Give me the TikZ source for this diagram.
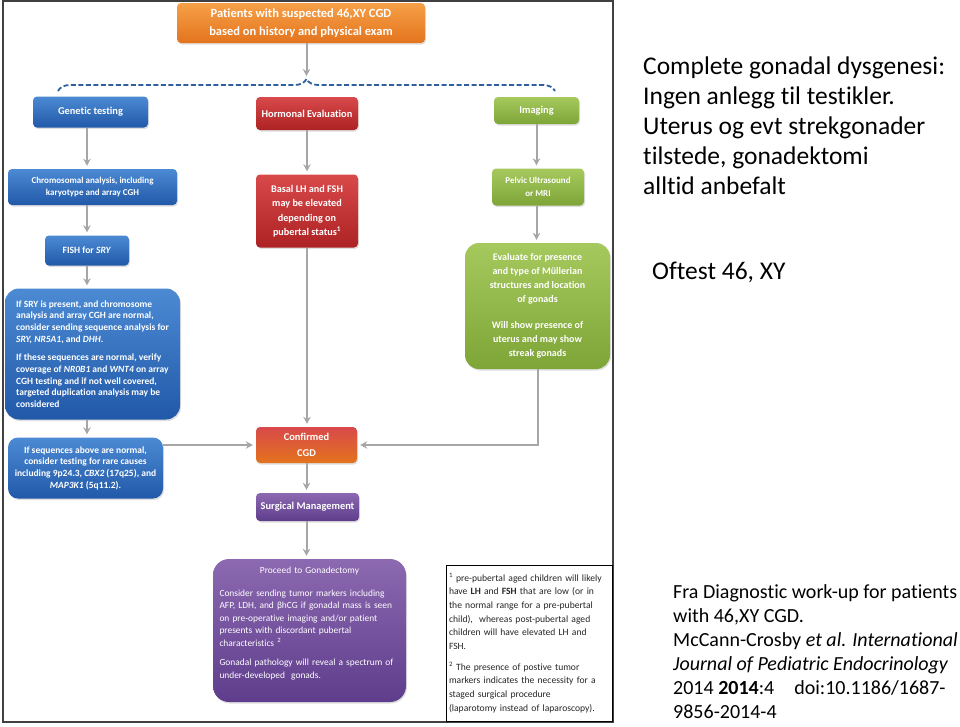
\documentclass[tikz,border=0pt]{standalone}
\usepackage{fontspec}
\setmainfont{Carlito}[Ligatures={NoCommon,TeX}]
\usepackage{tikz}
\usetikzlibrary{positioning,arrows.meta,decorations.pathreplacing,shadows}
\definecolor{flowgray}{HTML}{A6A6A6}
\definecolor{orangetop}{HTML}{F6A048}
\definecolor{orangebot}{HTML}{E3741D}
\definecolor{bluetop}{HTML}{4C8AD4}
\definecolor{bluebot}{HTML}{2159A8}
\definecolor{redtop}{HTML}{D8494A}
\definecolor{redbot}{HTML}{AD2224}
\definecolor{greentop}{HTML}{A6C95D}
\definecolor{greenbot}{HTML}{7EA537}
\definecolor{purpletop}{HTML}{8C69B0}
\definecolor{purplebot}{HTML}{5E3D8C}
\definecolor{bracecol}{HTML}{2F5F9E}

\begin{document}
\begin{tikzpicture}[x=1pt, y=-1pt,
    >={Stealth[length=7pt,width=7.5pt]},
    flow/.style={->, draw=flowgray, line width=2pt, shorten >=3pt},
    box/.style={rounded corners=4pt, inner sep=0pt, text=white, align=center,
      font=\bfseries\fontsize{9.5}{11.7}\selectfont,
      drop shadow={opacity=0.25, shadow xshift=1pt, shadow yshift=-1.5pt}},
    head/.style={box, font=\bfseries\fontsize{10.4}{16}\selectfont},
    bigbox/.style={box, rounded corners=14pt},
    bluebox/.style={top color=bluetop, bottom color=bluebot},
    redbox/.style={top color=redtop, bottom color=redbot},
    greenbox/.style={top color=greentop, bottom color=greenbot},
    purplebox/.style={top color=purpletop, bottom color=purplebot},
    orangebox/.style={top color=orangetop, bottom color=orangebot},
    bigtext/.style={font=\fontsize{25.5}{30}\selectfont, align=left, inner sep=0pt, anchor=north west}]
    \useasboundingbox (0,0) rectangle (960,726);
    \draw[line width=1.3pt, black!75] (3,1) rectangle (613,722);

    % top and branches
    \node[orangebox, box, font=\bfseries\fontsize{12.5}{18}\selectfont, minimum width=248pt, minimum height=40pt] (patients) at (301,23) {Patients with suspected 46,XY CGD\\based on history and physical exam};
    \coordinate (bracetip) at (306.5,79);
    \draw[bracecol, line width=1.8pt, dash pattern=on 5pt off 2.5pt, decorate, decoration={brace, amplitude=12pt}] (58,91) -- (555,91);
    \node[head, bluebox, minimum width=115pt, minimum height=31pt] (genetic) at (90.5,112) {Genetic testing};
    \node[head, redbox, minimum width=102pt, minimum height=33pt] (hormonal) at (307,113.5) {Hormonal Evaluation};
    \node[head, greenbox, minimum width=85pt, minimum height=27pt] (imaging) at (536.5,110.5) {Imaging};

    % genetic testing
    \node[box, bluebox, font=\bfseries\fontsize{9}{12.5}\selectfont, minimum width=169pt, minimum height=36pt] (chromo) at (92.5,187) {Chromosomal analysis, including\\karyotype and array CGH};
    \node[head, bluebox, font=\bfseries\fontsize{9.6}{12}\selectfont, minimum width=84pt, minimum height=30pt] (fish) at (87,250.5) {FISH for \textit{SRY}};
    \node[bigbox, bluebox, align=left, minimum width=175pt, minimum height=131pt] (srybox) at (92.5,354) {If SRY is present, and chromosome\\analysis and array CGH are normal,\\consider sending sequence analysis for\\\textit{SRY, NR5A1}, and \textit{DHH}.\\[7pt]If these sequences are normal, verify\\coverage of \textit{NR0B1} and \textit{WNT4} on array\\CGH testing and if not well covered,\\targeted duplication analysis may be\\considered};
    \node[box, bluebox, rounded corners=10pt, minimum width=155pt, minimum height=61pt] (rarecause) at (85.5,468) {If sequences above are normal,\\consider testing for rare causes\\including 9p24.3, \textit{CBX2} (17q25), and\\\textit{MAP3K1} (5q11.2).};

    % hormonal evaluation
    \node[box, redbox, font=\bfseries\fontsize{10.2}{14.5}\selectfont, minimum width=102pt, minimum height=73pt] (basal) at (307,211) {Basal LH and FSH\\may be elevated\\depending on\\pubertal status\textsuperscript{1}};

    % imaging
    \node[box, greenbox, font=\bfseries\fontsize{9}{12.7}\selectfont, minimum width=92pt, minimum height=37pt] (pelvic) at (538,187) {Pelvic Ultrasound\\or MRI};
    \node[bigbox, greenbox, font=\bfseries\fontsize{10}{14}\selectfont, minimum width=145pt, minimum height=126pt] (mullerian) at (537.5,306) {Evaluate for presence\\and type of Müllerian\\structures and location\\of gonads\\[12pt]Will show presence of\\uterus and may show\\streak gonads};

    % management
    \node[head, top color=redtop, bottom color=orangebot, minimum width=101pt, minimum height=36pt] (confirmed) at (306.5,445) {Confirmed\\CGD};
    \node[head, purplebox, minimum width=103pt, minimum height=28pt] (surgical) at (307.5,507) {Surgical Management};
    \node[bigbox, purplebox, rounded corners=16pt, font=\fontsize{9.4}{12.5}\selectfont, text width=190pt, align=left, minimum width=193pt, minimum height=143pt] (gonadectomy) at (309.5,630.5) {{\centering Proceed to Gonadectomy\par}\vspace{10pt}\leftskip=5pt Consider sending tumor markers including\\AFP, LDH, and βhCG if gonadal mass is seen\\on pre-operative imaging and/or patient\\presents with discordant pubertal\\characteristics \textsuperscript{2}\\[7pt]Gonadal pathology will reveal a spectrum of\\under-developed\ \ gonads.\par\vspace{14pt}};

    % footnotes
    \node[draw=black, line width=0.8pt, fill=white, text=black!85, inner sep=3pt, text width=160pt, align=left, font=\fontsize{9.6}{13.7}\selectfont, minimum height=156pt] (notes) at (529,643) {\textsuperscript{1} pre-pubertal aged children will likely\\have \textbf{LH} and \textbf{FSH} that are low (or in\\the normal range for a pre-pubertal\\child),\ \ whereas post-pubertal aged\\children will have elevated LH and\\FSH.\\[7pt]\textsuperscript{2} The presence of postive tumor\\markers indicates the necessity for a\\staged surgical procedure\\(laparotomy instead of laparoscopy).};

    % connectors
    \draw[flow] (patients.south -| bracetip) -- (bracetip);
    \draw[flow] (genetic.south -| fish) -- (chromo.north -| fish);
    \draw[flow] (chromo.south -| fish) -- (fish.north);
    \draw[flow] (fish.south) -- (srybox.north -| fish);
    \draw[flow] (srybox.south -| fish) -- (rarecause.north -| fish);
    \draw[flow] (hormonal.south) -- (basal.north -| hormonal);
    \draw[flow] (basal.south) -- (confirmed.north -| basal);
    \draw[flow] (imaging.south) -- (pelvic.north -| imaging);
    \draw[flow] (pelvic.south -| imaging) -- (mullerian.north -| imaging);
    \draw[flow] (mullerian.south) |- (confirmed.east);
    \draw[flow] (rarecause.east |- confirmed.west) -- (confirmed.west);
    \draw[flow] (confirmed.south) -- (surgical.north -| confirmed);
    \draw[flow] (surgical.south -| confirmed) -- (gonadectomy.north -| confirmed);

    % side text
    \node[bigtext] (cgdtext) at (643,57) {Complete gonadal dysgenesi:\\Ingen anlegg til testikler.\\Uterus og evt strekgonader\\tilstede, gonadektomi\\alltid anbefalt};
    \node[bigtext] (oftest) at (652,262) {Oftest 46, XY};
    \node[bigtext, font=\fontsize{20}{24}\selectfont] (source) at (673,584) {Fra Diagnostic work-up for patients\\with 46,XY CGD.\\McCann-Crosby \textit{et al. International}\\\textit{Journal of Pediatric Endocrinology}\\2014 \textbf{2014}:4\quad doi:10.1186/1687-\\9856-2014-4};
\end{tikzpicture}
\end{document}
